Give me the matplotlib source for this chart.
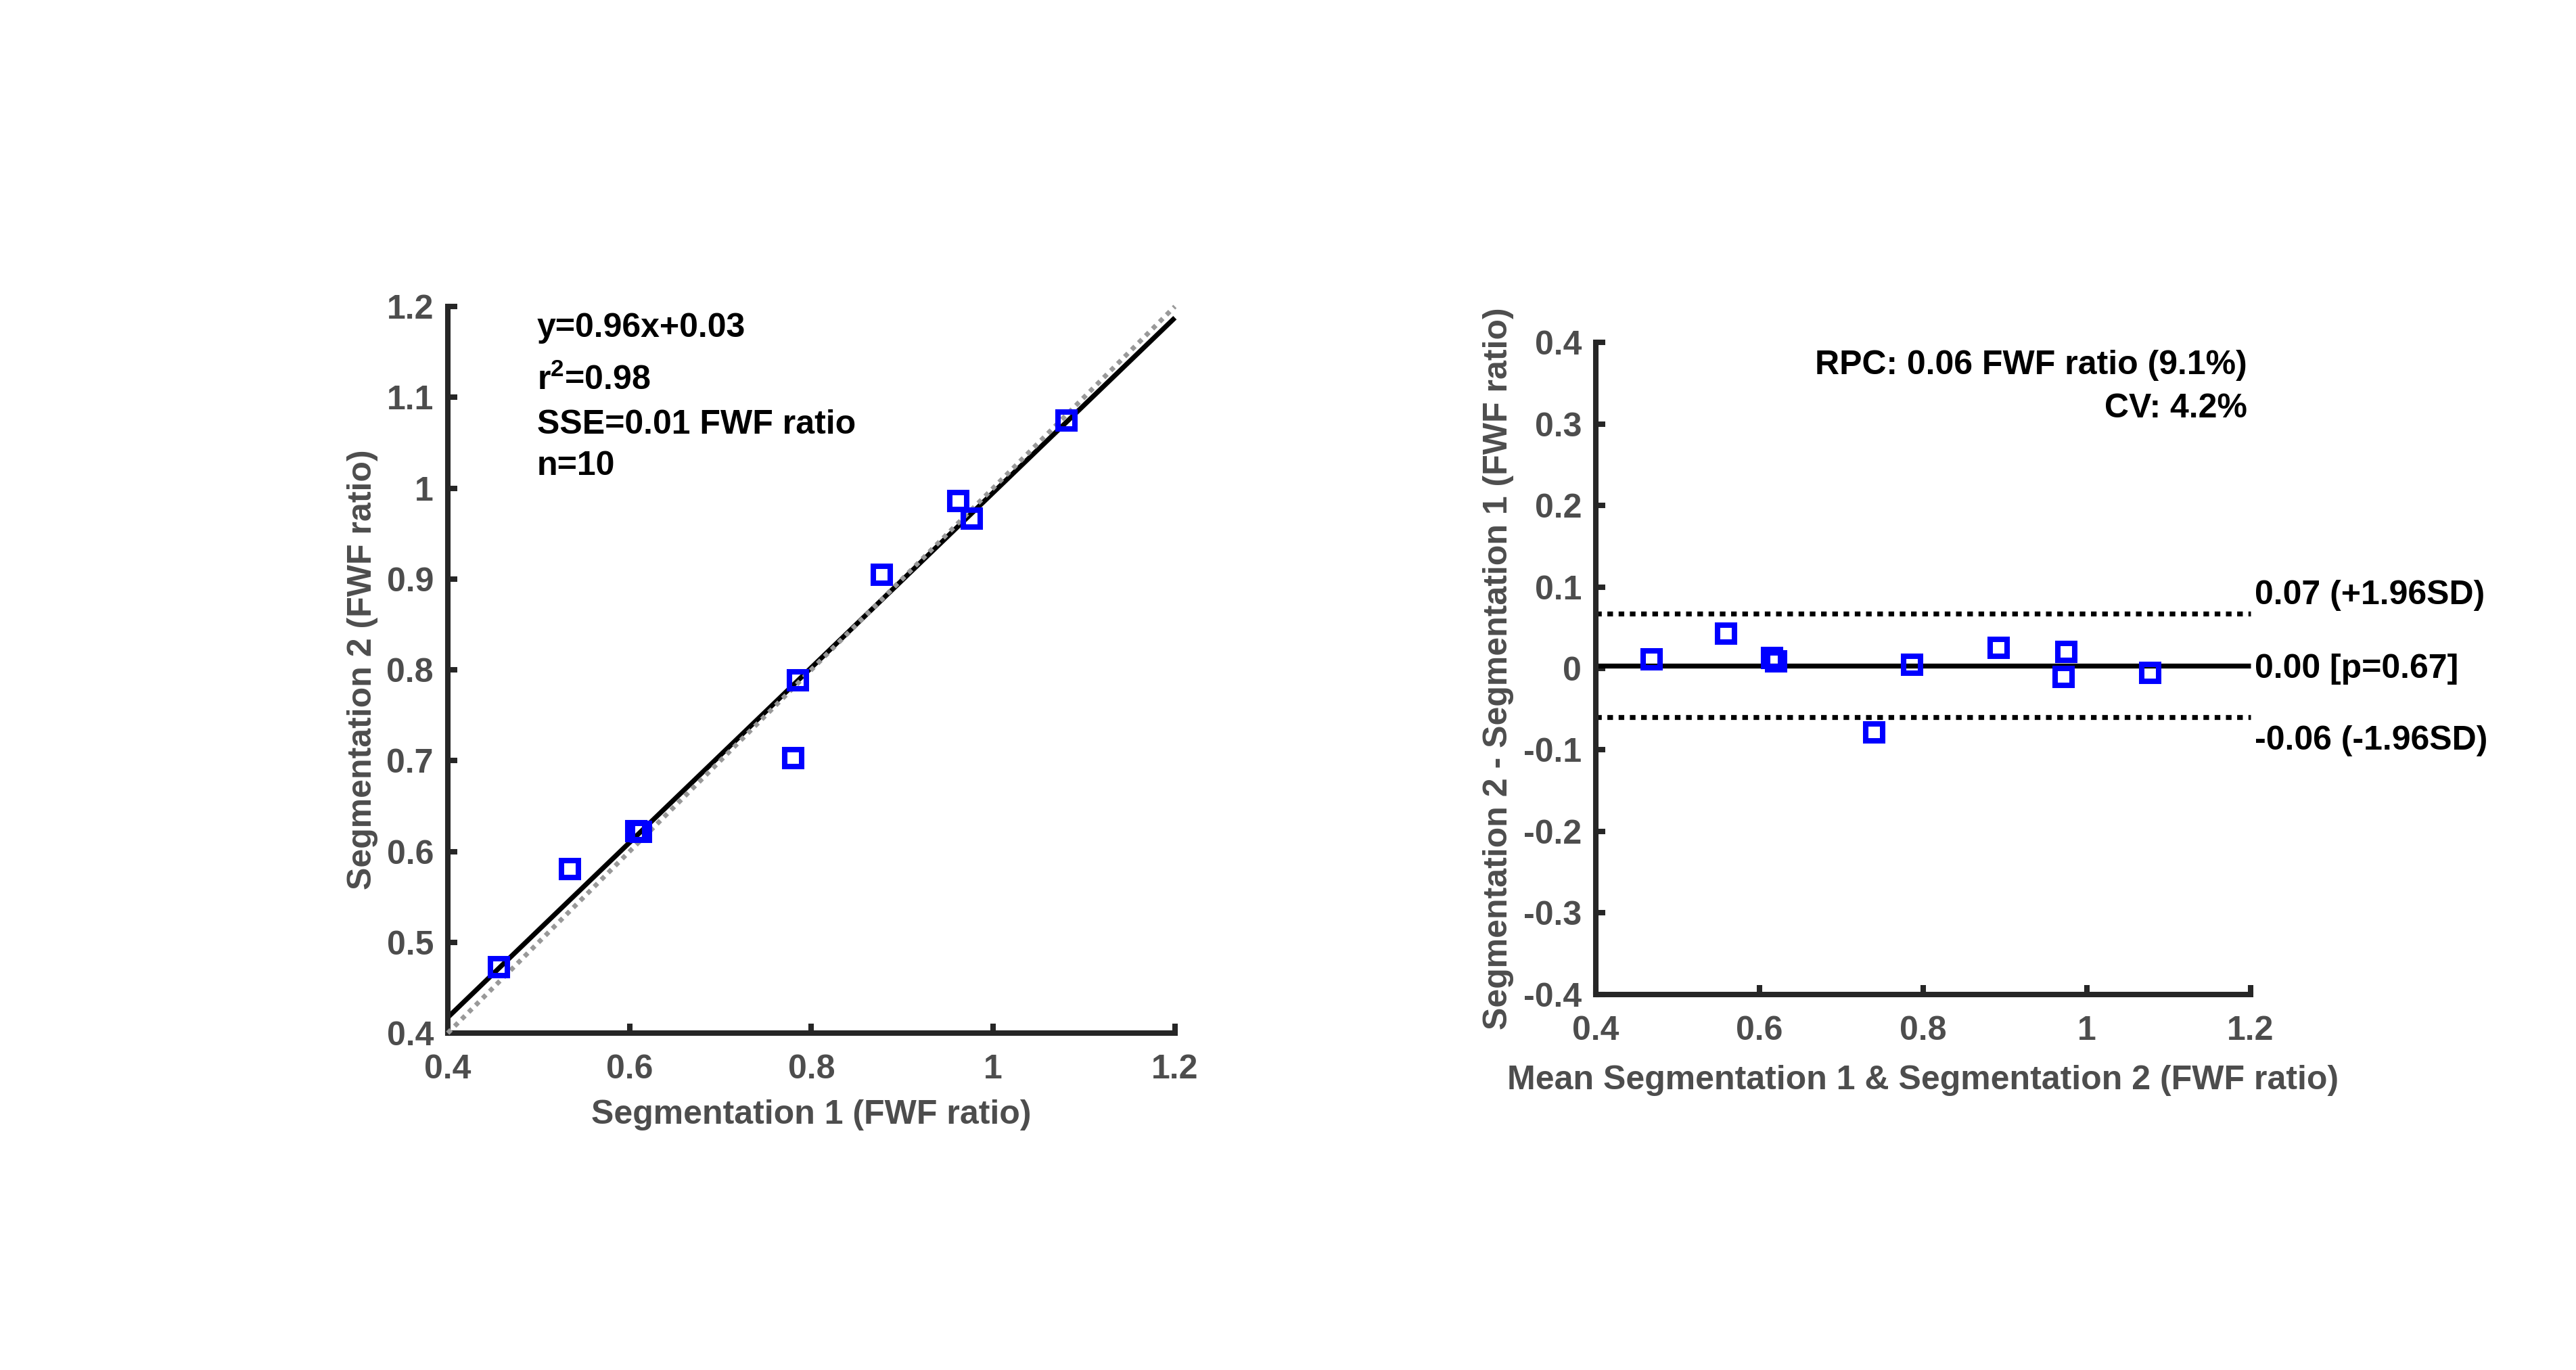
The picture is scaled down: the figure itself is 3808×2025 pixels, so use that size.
import matplotlib
matplotlib.use("Agg")
import matplotlib.pyplot as plt
import numpy as np

# values
seg1 = [0.456, 0.534, 0.607, 0.612, 0.780, 0.785, 0.877, 0.961, 0.976, 1.080]
seg2 = [0.473, 0.581, 0.623, 0.622, 0.703, 0.789, 0.905, 0.986, 0.967, 1.075]

ba_mean = [0.468, 0.559, 0.615, 0.620, 0.740, 0.786, 0.892, 0.974, 0.971, 1.077]
ba_diff = [0.012, 0.043, 0.013, 0.009, -0.078, 0.005, 0.026, 0.021, -0.010, -0.005]

fit_slope = 0.963
fit_intercept = 0.032
bias = 0.003
loa_upper = 0.067
loa_lower = -0.060
p_value = 0.67

fit_text = ["y=0.96x+0.03", r"r$^{2}$=0.98", "SSE=0.01 FWF ratio", f"n={len(seg1)}"]
rpc_text = "RPC: 0.06 FWF ratio (9.1%)"
cv_text = "CV: 4.2%"

xticks = [0.4, 0.6, 0.8, 1.0, 1.2]
xtick_labels = ["0.4", "0.6", "0.8", "1", "1.2"]
yticks1 = [0.4, 0.5, 0.6, 0.7, 0.8, 0.9, 1.0, 1.1, 1.2]
ytick_labels1 = ["0.4", "0.5", "0.6", "0.7", "0.8", "0.9", "1", "1.1", "1.2"]
yticks2 = [-0.4, -0.3, -0.2, -0.1, 0.0, 0.1, 0.2, 0.3, 0.4]
ytick_labels2 = ["-0.4", "-0.3", "-0.2", "-0.1", "0", "0.1", "0.2", "0.3", "0.4"]

plt.rcParams["font.family"] = ["Liberation Sans", "DejaVu Sans"]
plt.rcParams["font.weight"] = "bold"
plt.rcParams["mathtext.fontset"] = "custom"
plt.rcParams["mathtext.default"] = "bf"
plt.rcParams["mathtext.bf"] = "Liberation Sans:bold"
plt.rcParams["mathtext.rm"] = "Liberation Sans:bold"

AX_COL = "#262626"
LAB_COL = "#4d4d4d"
FS = 36


def style_axes(ax):
    for s in ["top", "right"]:
        ax.spines[s].set_visible(False)
    for s in ["left", "bottom"]:
        ax.spines[s].set_linewidth(5.8)
        ax.spines[s].set_color(AX_COL)
        ax.spines[s].set_capstyle("projecting")
    ax.tick_params(direction="in", length=10, width=5.8, color=AX_COL,
                   labelsize=FS, labelcolor=LAB_COL)
    ax.tick_params(axis="x", pad=22)
    ax.tick_params(axis="y", pad=15)


fig = plt.figure(figsize=(38.08, 20.25), dpi=100)
ax1 = fig.add_axes([0.1738, 0.2459, 0.2823, 0.5304])
ax2 = fig.add_axes([0.6195, 0.2741, 0.2542, 0.4760])

# --- left: correlation plot
xs = np.array([0.4, 1.2])
ax1.plot(xs, fit_slope * xs + fit_intercept, color="black", lw=5.2,
         solid_capstyle="butt", clip_on=False, zorder=2)
ax1.plot(xs, xs, color="#999999", lw=5.0, linestyle=(0, (1, 1.1)),
         dash_capstyle="butt", clip_on=False, zorder=3)
ax1.plot(seg1, seg2, linestyle="none", marker="s", ms=18, mew=5.8,
         mfc="none", mec="#0000ff", clip_on=False, zorder=4)

ax1.set_xlim(0.4, 1.2)
ax1.set_ylim(0.4, 1.2)
ax1.set_xticks(xticks)
ax1.set_xticklabels(xtick_labels)
ax1.set_yticks(yticks1)
ax1.set_yticklabels(ytick_labels1)
style_axes(ax1)

for txt, yy in zip(fit_text, [1.176, 1.119, 1.070, 1.024]):
    ax1.text(0.498, yy, txt, fontsize=FS, fontweight="bold", color="black",
             ha="left", va="center")

ax1.set_xlabel("Segmentation 1 (FWF ratio)", fontsize=FS, fontweight="bold", color=LAB_COL)
ax1.set_ylabel("Segmentation 2 (FWF ratio)", fontsize=FS, fontweight="bold", color=LAB_COL)
ax1.xaxis.set_label_coords(0.5, -0.091)
ax1.yaxis.set_label_coords(-0.096, 0.5)

# --- right: Bland-Altman plot
ax2.plot(xs, [loa_upper, loa_upper], color="black", lw=5.25,
         linestyle=(0, (1.14, 1.14)), dash_capstyle="butt", clip_on=False)
ax2.plot(xs, [loa_lower, loa_lower], color="black", lw=5.25,
         linestyle=(0, (1.14, 1.14)), dash_capstyle="butt", clip_on=False)
ax2.plot(xs, [bias, bias], color="black", lw=5.25, solid_capstyle="butt", clip_on=False)
ax2.plot(ba_mean, ba_diff, linestyle="none", marker="s", ms=18, mew=5.8,
         mfc="none", mec="#0000ff", clip_on=False, zorder=4)

ax2.set_xlim(0.4, 1.2)
ax2.set_ylim(-0.4, 0.4)
ax2.set_xticks(xticks)
ax2.set_xticklabels(xtick_labels)
ax2.set_yticks(yticks2)
ax2.set_yticklabels(ytick_labels2)
style_axes(ax2)

ax2.text(1.196, 0.372, rpc_text, fontsize=FS, fontweight="bold", ha="right", va="center")
ax2.text(1.196, 0.319, cv_text, fontsize=FS, fontweight="bold", ha="right", va="center")
ax2.text(1.205, 0.090, f"{loa_upper:.2f} (+1.96SD)", fontsize=FS, fontweight="bold",
         ha="left", va="center", clip_on=False)
ax2.text(1.205, -0.001, f"{bias:.2f} [p={p_value:.2f}]", fontsize=FS, fontweight="bold",
         ha="left", va="center", clip_on=False)
ax2.text(1.205, -0.089, f"{loa_lower:.2f} (-1.96SD)", fontsize=FS, fontweight="bold",
         ha="left", va="center", clip_on=False)

ax2.set_xlabel("Mean Segmentation 1 & Segmentation 2 (FWF ratio)", fontsize=FS,
               fontweight="bold", color=LAB_COL)
ax2.set_ylabel("Segmentation 2 - Segmentation 1 (FWF ratio)", fontsize=FS,
               fontweight="bold", color=LAB_COL)
ax2.xaxis.set_label_coords(0.5, -0.108)
ax2.yaxis.set_label_coords(-0.1254, 0.5)

fig.savefig("out.png", dpi=100)
